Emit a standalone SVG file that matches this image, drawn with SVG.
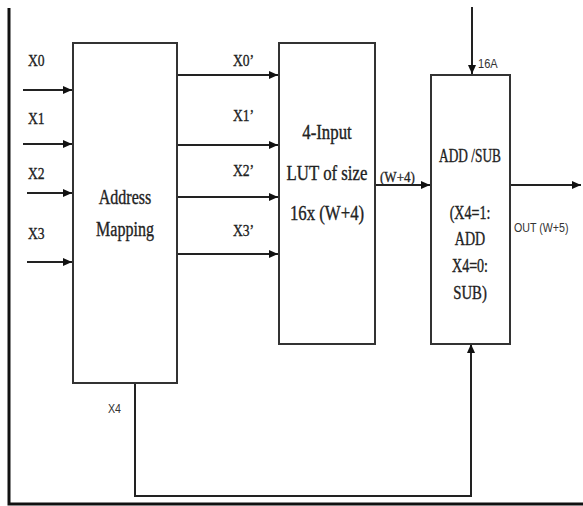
<svg xmlns="http://www.w3.org/2000/svg" width="583" height="506" viewBox="0 0 583 506">
<defs>
<marker id="ah" markerUnits="userSpaceOnUse" markerWidth="10" markerHeight="10" refX="9" refY="4" orient="auto">
<path d="M0,0 L9,4 L0,8 z" fill="#111"/>
</marker>
<style>
.box{fill:#fff;stroke:#333;stroke-width:2}
.ln{fill:none;stroke:#222;stroke-width:2}
.frame{stroke:#111;stroke-width:3;fill:none}
.t{stroke:#222;stroke-width:0.35}
</style>
</defs>
<rect width="583" height="506" fill="#fff"/>
<g id="frame">
<path class="frame" d="M9,8 V504 H583"/>
</g>
<g id="connectors">
<path class="ln" d="M23,90 H72" marker-end="url(#ah)"/>
<path class="ln" d="M23,144 H72" marker-end="url(#ah)"/>
<path class="ln" d="M27,193 H72" marker-end="url(#ah)"/>
<path class="ln" d="M27,262 H72" marker-end="url(#ah)"/>
<path class="ln" d="M177,75 H278" marker-end="url(#ah)"/>
<path class="ln" d="M177,145 H278" marker-end="url(#ah)"/>
<path class="ln" d="M177,197 H278" marker-end="url(#ah)"/>
<path class="ln" d="M177,254 H278" marker-end="url(#ah)"/>
<path class="ln" d="M375,185 H430" marker-end="url(#ah)"/>
<path class="ln" d="M510,185 H581" marker-end="url(#ah)"/>
<path class="ln" d="M472,7 V74" marker-end="url(#ah)"/>
<path class="ln" d="M135,383 V496 H471 V344" marker-end="url(#ah)"/>
</g>
<g id="labels" class="t" font-family="'Liberation Serif', 'DejaVu Serif', serif" fill="#222" font-size="17">
<text transform="translate(28,66) scale(0.8,1)">X0</text>
<text transform="translate(28,124) scale(0.8,1)">X1</text>
<text transform="translate(28,179) scale(0.8,1)">X2</text>
<text transform="translate(28,239) scale(0.8,1)">X3</text>
<text transform="translate(233,66) scale(0.8,1)">X0’</text>
<text transform="translate(233,121) scale(0.8,1)">X1’</text>
<text transform="translate(233,176) scale(0.8,1)">X2’</text>
<text transform="translate(233,236) scale(0.8,1)">X3’</text>
<text font-size="15" transform="translate(380,182) scale(0.87,1)">(W+4)</text>
</g>
<g id="sans-labels" font-family="'Liberation Sans', Arial, sans-serif" font-size="13" fill="#333">
<text transform="translate(478,68) scale(0.85,1)">16A</text>
<text transform="translate(514,232) scale(0.82,1)">OUT (W+5)</text>
<text transform="translate(108,413) scale(0.82,1)">X4</text>
</g>
<g id="address-mapping" font-family="'Liberation Serif', 'DejaVu Serif', serif" fill="#222" font-size="20" text-anchor="middle">
<rect class="box" x="73" y="43" width="104" height="340"/>
<text class="t" transform="translate(125,204) scale(0.8,1)">Address</text>
<text class="t" transform="translate(125,236) scale(0.8,1)">Mapping</text>
</g>
<g id="lut" font-family="'Liberation Serif', 'DejaVu Serif', serif" fill="#222" font-size="20" text-anchor="middle">
<rect class="box" x="279" y="43" width="96" height="301"/>
<text class="t" transform="translate(327,139) scale(0.84,1)">4-Input</text>
<text class="t" transform="translate(327,180) scale(0.84,1)">LUT of size</text>
<text class="t" transform="translate(327,220) scale(0.84,1)">16x (W+4)</text>
</g>
<g id="addsub" font-family="'Liberation Serif', 'DejaVu Serif', serif" fill="#222" font-size="18" text-anchor="middle">
<rect class="box" x="431" y="75" width="79" height="269"/>
<text class="t" transform="translate(470,162) scale(0.74,1)">ADD /SUB</text>
<text class="t" transform="translate(470,219) scale(0.78,1)">(X4=1:</text>
<text class="t" transform="translate(470,245) scale(0.78,1)">ADD</text>
<text class="t" transform="translate(470,272) scale(0.78,1)">X4=0:</text>
<text class="t" transform="translate(470,299) scale(0.82,1)">SUB)</text>
</g>
</svg>
